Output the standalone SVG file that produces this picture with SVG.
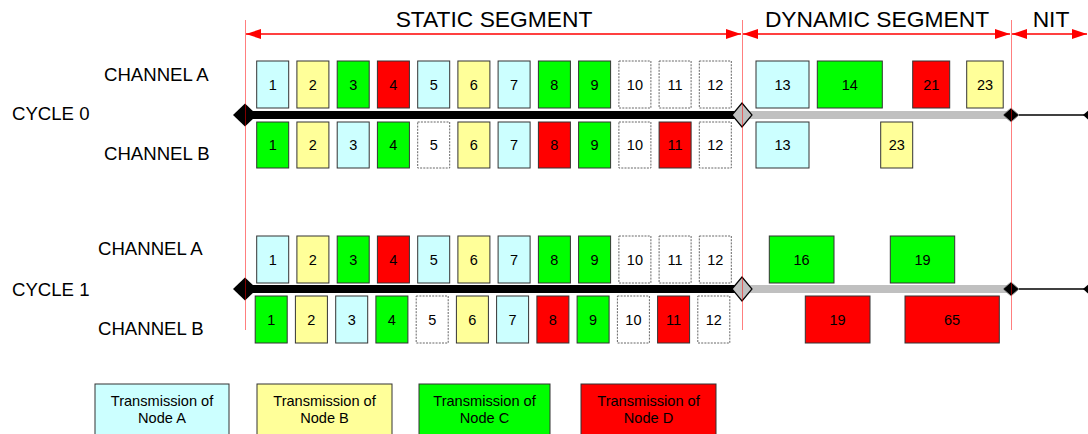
<svg xmlns="http://www.w3.org/2000/svg" width="1088" height="434" viewBox="0 0 1088 434">
<style>
.lbl{font-family:"Liberation Sans",Arial,sans-serif;font-size:18.6px;fill:#000}
.hdr{font-family:"Liberation Sans",Arial,sans-serif;font-size:22.8px;fill:#000;text-anchor:middle}
.num{font-family:"Liberation Sans",Arial,sans-serif;font-size:14.5px;fill:#000;text-anchor:middle}
.leg{font-family:"Liberation Sans",Arial,sans-serif;font-size:14.6px;fill:#000;text-anchor:middle}
.b{stroke:#333;stroke-width:1}
.d{fill:#fff;stroke:#666;stroke-width:1;stroke-dasharray:2,1.2}
.A{fill:#CCFFFF}.B{fill:#FFFF99}.C{fill:#00FF00}.D{fill:#FF0000}
.rl{stroke:#FF0000;stroke-opacity:0.5;stroke-width:1}
.arr{stroke:#FF0000;stroke-width:1.5;fill:none}
</style>
<defs>
<marker id="ah" viewBox="0 0 15 10" refX="15" refY="5" markerWidth="15" markerHeight="10" orient="auto-start-reverse" markerUnits="userSpaceOnUse">
<path d="M0,0 L15,5 L0,10 z" fill="#FF0000"/>
</marker>
</defs>
<rect width="1088" height="434" fill="#fff"/>

<g id="headers">
<text class="hdr" x="494" y="27">STATIC SEGMENT</text>
<text class="hdr" x="877" y="27">DYNAMIC SEGMENT</text>
<text class="hdr" x="1051" y="27">NIT</text>
</g>

<g id="labels">
<text class="lbl" x="104" y="81">CHANNEL A</text>
<text class="lbl" x="12" y="120">CYCLE 0</text>
<text class="lbl" x="104" y="160">CHANNEL B</text>
<text class="lbl" x="98" y="255">CHANNEL A</text>
<text class="lbl" x="12" y="296">CYCLE 1</text>
<text class="lbl" x="98" y="335">CHANNEL B</text>
</g>

<g id="connectors">
<line class="arr" x1="246" y1="34" x2="741" y2="34" marker-start="url(#ah)" marker-end="url(#ah)"/>
<line class="arr" x1="743" y1="34" x2="1010" y2="34" marker-start="url(#ah)" marker-end="url(#ah)"/>
<line class="arr" x1="1012" y1="34" x2="1087" y2="34" marker-start="url(#ah)" marker-end="url(#ah)"/>
<!-- cycle 0 timeline -->
<rect x="245" y="111" width="497" height="8" fill="#000"/>
<rect x="742" y="111" width="269" height="8" fill="#C0C0C0"/>
<line x1="1011" y1="115" x2="1086" y2="115" stroke="#000" stroke-width="1.5"/>
<path d="M233,115 L245,103.5 L257,115 L245,126.5 z" fill="#000"/>
<path d="M732,115 L742,103 L752,115 L742,127 z" fill="#C0C0C0" stroke="#000" stroke-width="1.2"/>
<path d="M1003,115 L1011,108 L1019,115 L1011,122 z" fill="#000" stroke="#999" stroke-width="1"/>
<path d="M1083,115 L1091,108 L1099,115 L1091,122 z" fill="#000"/>
<!-- cycle 1 timeline -->
<rect x="245" y="285" width="497" height="8" fill="#000"/>
<rect x="742" y="285" width="269" height="8" fill="#C0C0C0"/>
<line x1="1011" y1="289" x2="1086" y2="289" stroke="#000" stroke-width="1.5"/>
<path d="M233,289 L245,277.5 L257,289 L245,300.5 z" fill="#000"/>
<path d="M732,289 L742,277 L752,289 L742,301 z" fill="#C0C0C0" stroke="#000" stroke-width="1.2"/>
<path d="M1003,289 L1011,282 L1019,289 L1011,296 z" fill="#000" stroke="#999" stroke-width="1"/>
<path d="M1083,289 L1091,282 L1099,289 L1091,296 z" fill="#000"/>
<!-- segment boundaries -->
<line class="rl" x1="245.5" y1="20" x2="245.5" y2="330"/>
<line class="rl" x1="742.5" y1="20" x2="742.5" y2="330"/>
<line class="rl" x1="1011.5" y1="20" x2="1011.5" y2="330"/>
</g>

<!-- Cycle 0, Channel A -->
<g id="c0a1"><rect class="b A" x="256.7" y="61" width="32" height="47"/><text class="num" x="272.7" y="89.5">1</text></g>
<g id="c0a2"><rect class="b B" x="296.9" y="61" width="32" height="47"/><text class="num" x="312.9" y="89.5">2</text></g>
<g id="c0a3"><rect class="b C" x="337.2" y="61" width="32" height="47"/><text class="num" x="353.2" y="89.5">3</text></g>
<g id="c0a4"><rect class="b D" x="377.4" y="61" width="32" height="47"/><text class="num" x="393.4" y="89.5">4</text></g>
<g id="c0a5"><rect class="b A" x="417.7" y="61" width="32" height="47"/><text class="num" x="433.7" y="89.5">5</text></g>
<g id="c0a6"><rect class="b B" x="457.9" y="61" width="32" height="47"/><text class="num" x="473.9" y="89.5">6</text></g>
<g id="c0a7"><rect class="b A" x="498.1" y="61" width="32" height="47"/><text class="num" x="514.1" y="89.5">7</text></g>
<g id="c0a8"><rect class="b C" x="538.4" y="61" width="32" height="47"/><text class="num" x="554.4" y="89.5">8</text></g>
<g id="c0a9"><rect class="b C" x="578.6" y="61" width="32" height="47"/><text class="num" x="594.6" y="89.5">9</text></g>
<g id="c0a10"><rect class="d" x="618.9" y="61" width="32" height="47"/><text class="num" x="634.9" y="89.5">10</text></g>
<g id="c0a11"><rect class="d" x="659.1" y="61" width="32" height="47"/><text class="num" x="675.1" y="89.5">11</text></g>
<g id="c0a12"><rect class="d" x="699.3" y="61" width="32" height="47"/><text class="num" x="715.3" y="89.5">12</text></g>
<g id="c0a13"><rect class="b A" x="756" y="61" width="53" height="47"/><text class="num" x="782.5" y="89.5">13</text></g>
<g id="c0a14"><rect class="b C" x="817.3" y="61" width="65" height="47"/><text class="num" x="849.8" y="89.5">14</text></g>
<g id="c0a21"><rect class="b D" x="912.7" y="61" width="37" height="47"/><text class="num" x="931.2" y="89.5">21</text></g>
<g id="c0a23"><rect class="b B" x="966.7" y="61" width="36.5" height="47"/><text class="num" x="985" y="89.5">23</text></g>

<!-- Cycle 0, Channel B -->
<g id="c0b1"><rect class="b C" x="256.7" y="122" width="32" height="46"/><text class="num" x="272.7" y="150">1</text></g>
<g id="c0b2"><rect class="b B" x="296.9" y="122" width="32" height="46"/><text class="num" x="312.9" y="150">2</text></g>
<g id="c0b3"><rect class="b A" x="337.2" y="122" width="32" height="46"/><text class="num" x="353.2" y="150">3</text></g>
<g id="c0b4"><rect class="b C" x="377.4" y="122" width="32" height="46"/><text class="num" x="393.4" y="150">4</text></g>
<g id="c0b5"><rect class="d" x="417.7" y="122" width="32" height="46"/><text class="num" x="433.7" y="150">5</text></g>
<g id="c0b6"><rect class="b B" x="457.9" y="122" width="32" height="46"/><text class="num" x="473.9" y="150">6</text></g>
<g id="c0b7"><rect class="b A" x="498.1" y="122" width="32" height="46"/><text class="num" x="514.1" y="150">7</text></g>
<g id="c0b8"><rect class="b D" x="538.4" y="122" width="32" height="46"/><text class="num" x="554.4" y="150">8</text></g>
<g id="c0b9"><rect class="b C" x="578.6" y="122" width="32" height="46"/><text class="num" x="594.6" y="150">9</text></g>
<g id="c0b10"><rect class="d" x="618.9" y="122" width="32" height="46"/><text class="num" x="634.9" y="150">10</text></g>
<g id="c0b11"><rect class="b D" x="659.1" y="122" width="32" height="46"/><text class="num" x="675.1" y="150">11</text></g>
<g id="c0b12"><rect class="d" x="699.3" y="122" width="32" height="46"/><text class="num" x="715.3" y="150">12</text></g>
<g id="c0b13"><rect class="b A" x="756" y="122" width="53" height="46"/><text class="num" x="782.5" y="150">13</text></g>
<g id="c0b23"><rect class="b B" x="880.7" y="122" width="32" height="46"/><text class="num" x="896.7" y="150">23</text></g>

<!-- Cycle 1, Channel A -->
<g id="c1a1"><rect class="b A" x="256.7" y="236" width="32" height="47"/><text class="num" x="272.7" y="264.5">1</text></g>
<g id="c1a2"><rect class="b B" x="296.9" y="236" width="32" height="47"/><text class="num" x="312.9" y="264.5">2</text></g>
<g id="c1a3"><rect class="b C" x="337.2" y="236" width="32" height="47"/><text class="num" x="353.2" y="264.5">3</text></g>
<g id="c1a4"><rect class="b D" x="377.4" y="236" width="32" height="47"/><text class="num" x="393.4" y="264.5">4</text></g>
<g id="c1a5"><rect class="b A" x="417.7" y="236" width="32" height="47"/><text class="num" x="433.7" y="264.5">5</text></g>
<g id="c1a6"><rect class="b B" x="457.9" y="236" width="32" height="47"/><text class="num" x="473.9" y="264.5">6</text></g>
<g id="c1a7"><rect class="b A" x="498.1" y="236" width="32" height="47"/><text class="num" x="514.1" y="264.5">7</text></g>
<g id="c1a8"><rect class="b C" x="538.4" y="236" width="32" height="47"/><text class="num" x="554.4" y="264.5">8</text></g>
<g id="c1a9"><rect class="b C" x="578.6" y="236" width="32" height="47"/><text class="num" x="594.6" y="264.5">9</text></g>
<g id="c1a10"><rect class="d" x="618.9" y="236" width="32" height="47"/><text class="num" x="634.9" y="264.5">10</text></g>
<g id="c1a11"><rect class="d" x="659.1" y="236" width="32" height="47"/><text class="num" x="675.1" y="264.5">11</text></g>
<g id="c1a12"><rect class="d" x="699.3" y="236" width="32" height="47"/><text class="num" x="715.3" y="264.5">12</text></g>
<g id="c1a16"><rect class="b C" x="769.3" y="236" width="64.7" height="47"/><text class="num" x="801.6" y="264.5">16</text></g>
<g id="c1a19"><rect class="b C" x="890.3" y="236" width="64.4" height="47"/><text class="num" x="922.5" y="264.5">19</text></g>

<!-- Cycle 1, Channel B -->
<g id="c1b1"><rect class="b C" x="255.2" y="296" width="32" height="47"/><text class="num" x="271.2" y="324.5">1</text></g>
<g id="c1b2"><rect class="b B" x="295.4" y="296" width="32" height="47"/><text class="num" x="311.4" y="324.5">2</text></g>
<g id="c1b3"><rect class="b A" x="335.7" y="296" width="32" height="47"/><text class="num" x="351.7" y="324.5">3</text></g>
<g id="c1b4"><rect class="b C" x="375.9" y="296" width="32" height="47"/><text class="num" x="391.9" y="324.5">4</text></g>
<g id="c1b5"><rect class="d" x="416.2" y="296" width="32" height="47"/><text class="num" x="432.2" y="324.5">5</text></g>
<g id="c1b6"><rect class="b B" x="456.4" y="296" width="32" height="47"/><text class="num" x="472.4" y="324.5">6</text></g>
<g id="c1b7"><rect class="b A" x="496.6" y="296" width="32" height="47"/><text class="num" x="512.6" y="324.5">7</text></g>
<g id="c1b8"><rect class="b D" x="536.9" y="296" width="32" height="47"/><text class="num" x="552.9" y="324.5">8</text></g>
<g id="c1b9"><rect class="b C" x="577.1" y="296" width="32" height="47"/><text class="num" x="593.1" y="324.5">9</text></g>
<g id="c1b10"><rect class="d" x="617.4" y="296" width="32" height="47"/><text class="num" x="633.4" y="324.5">10</text></g>
<g id="c1b11"><rect class="b D" x="657.6" y="296" width="32" height="47"/><text class="num" x="673.6" y="324.5">11</text></g>
<g id="c1b12"><rect class="d" x="697.8" y="296" width="32" height="47"/><text class="num" x="713.8" y="324.5">12</text></g>
<g id="c1b19"><rect class="b D" x="805.3" y="296" width="64.7" height="47"/><text class="num" x="837.6" y="324.5">19</text></g>
<g id="c1b65"><rect class="b D" x="905" y="296" width="94.3" height="47"/><text class="num" x="952.1" y="324.5">65</text></g>

<!-- Legend -->
<g id="legendA"><rect class="b A" x="95" y="384" width="134" height="60"/><text class="leg" x="162" y="406">Transmission of</text><text class="leg" x="162" y="423">Node A</text></g>
<g id="legendB"><rect class="b B" x="257" y="384" width="135" height="60"/><text class="leg" x="324.5" y="406">Transmission of</text><text class="leg" x="324.5" y="423">Node B</text></g>
<g id="legendC"><rect class="b C" x="419" y="384" width="131" height="60"/><text class="leg" x="484.5" y="406">Transmission of</text><text class="leg" x="484.5" y="423">Node C</text></g>
<g id="legendD"><rect class="b D" x="581" y="384" width="135" height="60"/><text class="leg" x="648.5" y="406">Transmission of</text><text class="leg" x="648.5" y="423">Node D</text></g>
</svg>
